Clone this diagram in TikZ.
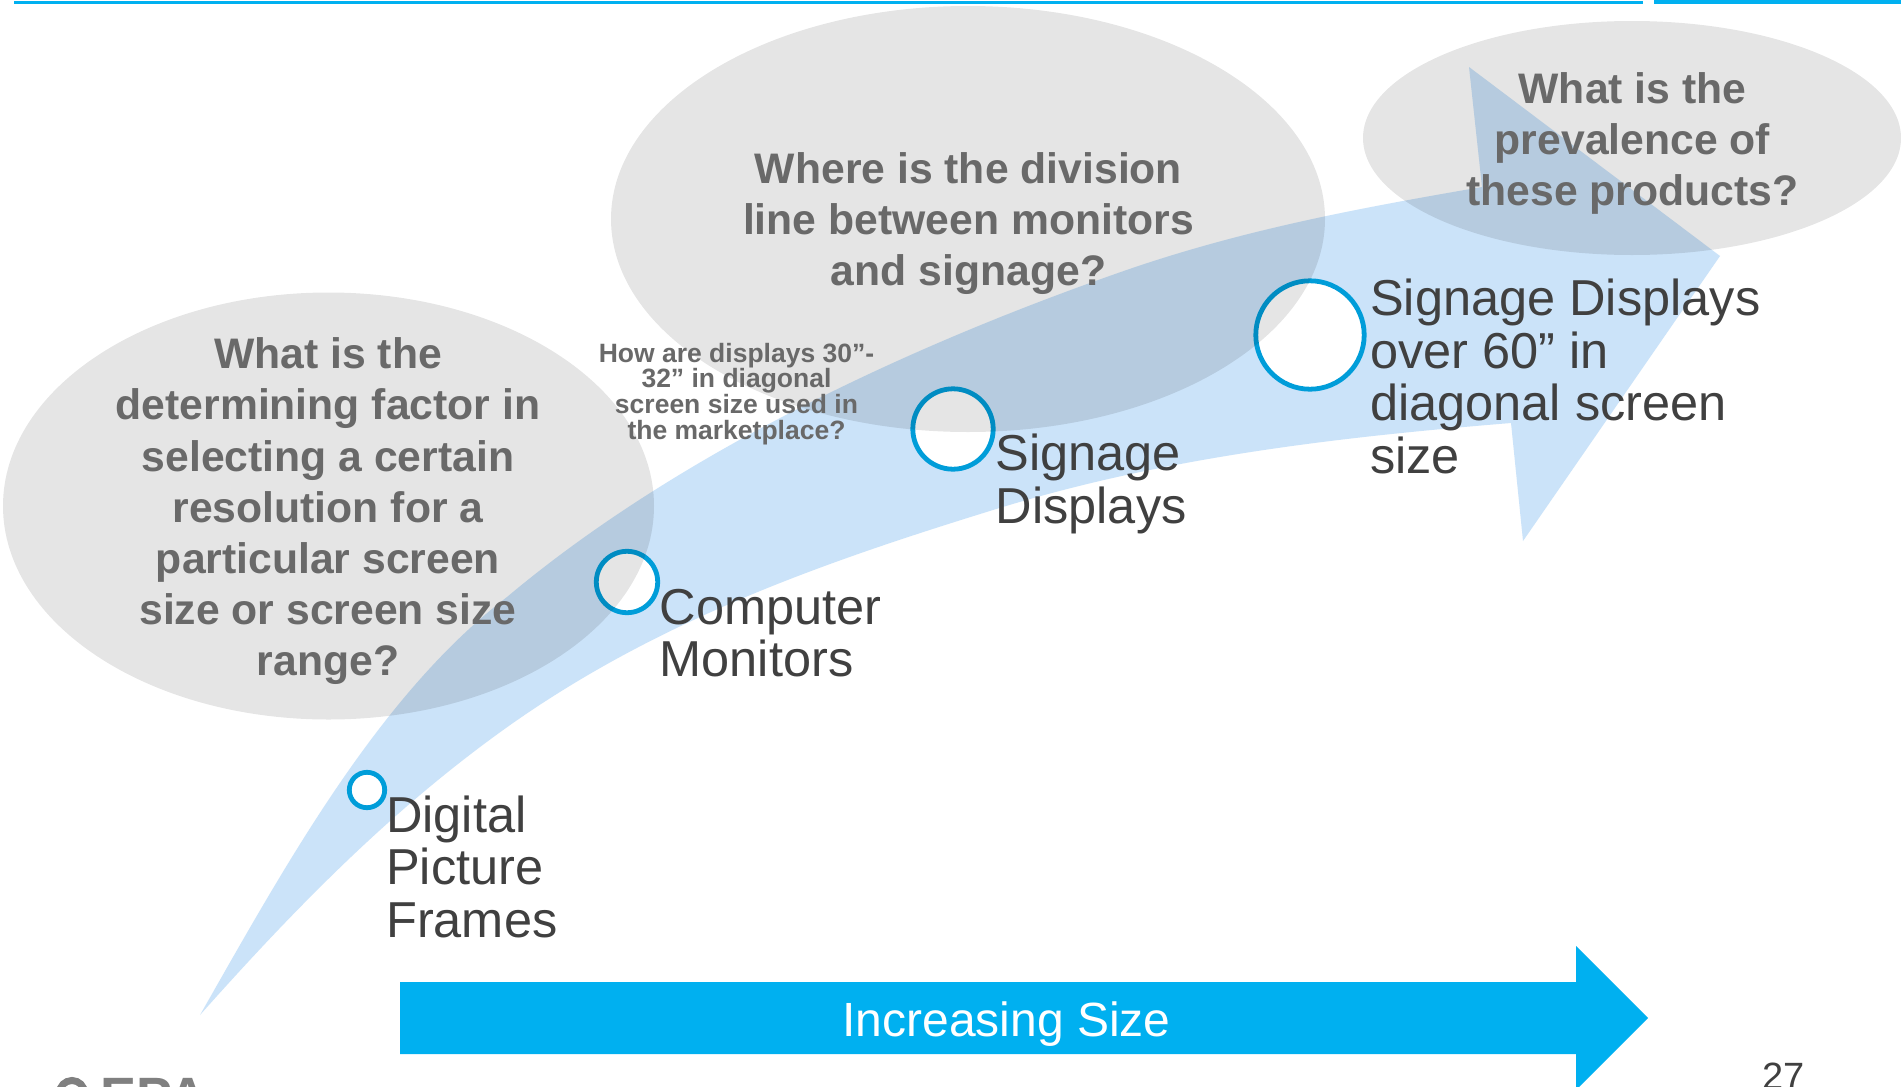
\documentclass[tikz,border=0pt]{standalone}
\usepackage{fontspec}
\setmainfont{Liberation Sans}
\definecolor{barblue}{HTML}{00B0F0}
\definecolor{ringblue}{HTML}{009DD9}
\definecolor{flowblue}{HTML}{CBE3F9}
\definecolor{darktext}{HTML}{404040}
\definecolor{asktext}{HTML}{696969}
\definecolor{logogray}{HTML}{808080}
\newcommand{\bigtop}{\rule{0pt}{40pt}}
\newcommand{\asktop}{\rule{0pt}{35pt}}
\newcommand{\smalltop}{\rule{0pt}{22pt}}
\tikzset{
  stagelabel/.style={anchor=north west,inner sep=0pt,align=left,text=darktext,font=\fontsize{50.5}{52.5}\selectfont},
  asklabel/.style={anchor=north,inner sep=0pt,align=center,text=asktext,font=\fontsize{42.7}{51.2}\selectfont\bfseries},
  smallask/.style={anchor=north,inner sep=0pt,align=center,text=asktext,font=\fontsize{26.5}{25.6}\selectfont\bfseries},
  bubble/.style={fill=black,fill opacity=0.1},
  ring/.style={draw=ringblue,line width=4.8pt,fill=white}
}
\begin{document}
\begin{tikzpicture}[x=1pt,y=-1pt]
\useasboundingbox (0,0) rectangle (1901,1087);
\fill[white] (0,0) rectangle (1901,1087);
% top rules
\fill[barblue] (14,1) rectangle (1643,4);
\fill[barblue] (1654,0) rectangle (1901,4);
% curved flow arrow
\fill[flowblue] (200,1015)
  .. controls (285,866) and (378,696) .. (507,597)
  .. controls (682,450) and (918,343) .. (1118,273)
  .. controls (1240,230) and (1360,208) .. (1482,187)
  -- (1469,67) -- (1720,256) -- (1523,541) -- (1511,423)
  .. controls (1340,437) and (1163,457) .. (993,510)
  .. controls (828,561) and (663,618) .. (513,723)
  .. controls (395,806) and (297,906) .. (200,1015)
  -- cycle;
% stage rings
\path[ring] (367,790) circle (17.7);
\path[ring] (627,582) circle (30.7);
\path[ring] (953,429) circle (40.2);
\path[ring] (1310,335) circle (54.2);
% question bubbles
\path[bubble] (328.5,506) ellipse (325.5 and 213.5);
\path[bubble] (968,219) ellipse (357 and 213);
\path[bubble] (1632,138) ellipse (269 and 117);
% question texts
\node[asklabel] (q1) at (328,333.5) {\asktop What is the\\determining factor in\\selecting a certain\\resolution for a\\particular screen\\size or screen size\\range?};
\node[asklabel] (q2) at (968.5,148) {\asktop Where is the division\\line between monitors\\and signage?};
\node[asklabel] (q3) at (1632.5,68) {\asktop What is the\\prevalence of\\these products?};
\node[smallask] (q4) at (736.5,340) {\smalltop How are displays 30”-\\32” in diagonal\\screen size used in\\the marketplace?};
% stage labels
\node[stagelabel] (s1) at (386,792) {\bigtop Digital\\Picture\\Frames};
\node[stagelabel] (s2) at (659.5,584) {\bigtop Computer\\Monitors};
\node[stagelabel] (s3) at (995.5,430.5) {\bigtop Signage\\Displays};
\node[stagelabel] (s4) at (1370,275.5) {\bigtop Signage Displays\\over 60” in\\diagonal screen\\size};
% increasing size arrow
\fill[barblue] (400,982) -- (1576,982) -- (1576,946) -- (1648,1018) -- (1576,1090) -- (1576,1054) -- (400,1054) -- cycle;
\node[inner sep=0pt,anchor=base,text=white,font=\fontsize{48}{52}\selectfont] (size) at (1006.5,1036) {Increasing Size};
% page number and logo
\node[inner sep=0pt,anchor=base west,text=darktext,font=\fontsize{38}{42}\selectfont] (page) at (1762,1089) {27};
\draw[logogray,line width=7pt] (72,1093) circle (12.5);
\node[inner sep=0pt,anchor=base west,text=logogray,font=\fontsize{54}{58}\selectfont\bfseries] (logo) at (100,1115.5) {EPA};
\end{tikzpicture}
\end{document}
